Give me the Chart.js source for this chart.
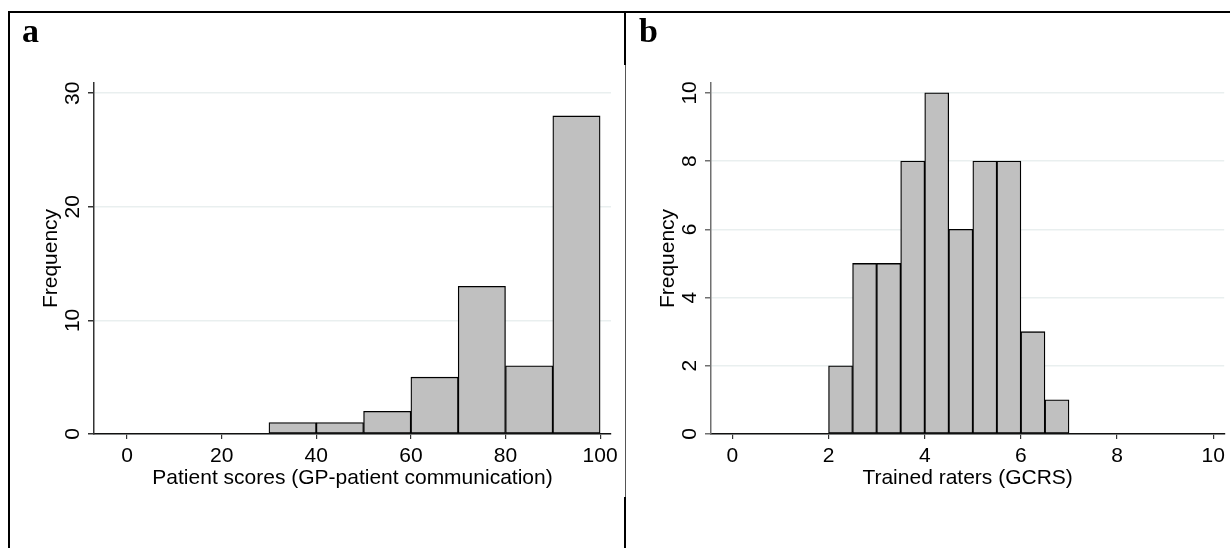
<!DOCTYPE html>
<html>
<head>
<meta charset="utf-8">
<script src="https://cdn.jsdelivr.net/npm/chart.js@4.4.0/dist/chart.umd.min.js"></script>
<style>
  body { margin: 0; background: #fff; }
  #page { position: relative; width: 1230px; height: 548px; overflow: hidden; background: #fff; }
  canvas { position: absolute; top: 0; }
  #histA { left: 0; }
  #histB { left: 625px; }
  .line { position: absolute; background: #000; z-index: 2; }
  .panel { position: absolute; z-index: 2; font: bold 34px "Liberation Serif", "Times New Roman", serif; line-height: 34px; color: #000; }
</style>
</head>
<body>
<div id="page">
  <canvas id="histA" width="625" height="548"></canvas>
  <canvas id="histB" width="605" height="548"></canvas>

  <!-- table borders round the two panels -->
  <div class="line" style="left:8px; top:11px; width:1222px; height:2px;"></div>
  <div class="line" style="left:8px; top:11px; width:2px; height:537px;"></div>
  <div class="line" style="left:624px; top:11px; width:2px; height:54px;"></div>
  <div class="line" style="left:625px; top:65px; width:1px; height:432px; background:#555;"></div>
  <div class="line" style="left:624px; top:497px; width:2px; height:51px;"></div>

  <div class="panel" style="left:22px; top:14px;">a</div>
  <div class="panel" style="left:639px; top:14px;">b</div>
</div>

<script>
// panel a : patient scores
var binsA = [30, 40, 50, 60, 70, 80, 90];
var countsA = [1, 1, 2, 5, 13, 6, 28];
var binWidthA = 10;
var xTicksA = [0, 20, 40, 60, 80, 100];
var yTicksA = [0, 10, 20, 30];

// panel b : trained raters
var binsB = [2, 2.5, 3, 3.5, 4, 4.5, 5, 5.5, 6, 6.5];
var countsB = [2, 5, 5, 8, 10, 6, 8, 8, 3, 1];
var binWidthB = 0.5;
var xTicksB = [0, 2, 4, 6, 8, 10];
var yTicksB = [0, 2, 4, 6, 8, 10];

var fnt = { family: "'Liberation Sans', Arial, sans-serif", size: 21 };

function histogram(id, bins, counts, width, xTicks, yTicks, xRange, yMax, xTitle, pad, yAxisColor) {
  var pts = bins.map(function(b, i) {
    return { x: b + width / 2, y: counts[i] };
  });

  return new Chart(document.getElementById(id), {
    type: "bar",
    data: {
      datasets: [{
        data: pts,
        backgroundColor: "#c0c0c0",
        borderColor: "#000",
        borderWidth: 1.3,
        borderSkipped: false,
        barPercentage: 1,
        categoryPercentage: 1
      }]
    },
    options: {
      responsive: false,
      animation: false,
      devicePixelRatio: 1,
      layout: { padding: pad },
      plugins: { legend: { display: false }, tooltip: { enabled: false } },
      scales: {
        x: {
          type: "linear",
          min: xRange[0],
          max: xRange[1],
          offset: false,
          afterBuildTicks: function(s) { s.ticks = xTicks.map(function(v) { return { value: v }; }); },
          afterFit: function(s) { s.height = 57; },
          ticks: { maxRotation: 0, autoSkip: false, padding: 5, color: "#000", font: fnt },
          grid: { drawOnChartArea: false, offset: false, tickLength: 5, tickColor: "#333", lineWidth: 1.2 },
          border: { color: "#111", width: 1.5, z: 1 },
          title: { display: true, text: xTitle, color: "#000", font: fnt, padding: 0 }
        },
        y: {
          min: 0,
          max: yMax,
          afterBuildTicks: function(s) { s.ticks = yTicks.map(function(v) { return { value: v }; }); },
          afterFit: function(s) { s.width = 55; },
          ticks: { minRotation: 90, maxRotation: 90, crossAlign: "center", autoSkip: false, padding: 3, color: "#000", font: fnt },
          grid: { color: "#e9efef", lineWidth: 1.5, tickLength: 6, tickColor: yAxisColor },
          border: { color: yAxisColor, width: 1.5, z: 1 },
          title: { display: true, text: "Frequency", color: "#000", font: fnt, padding: 0 }
        }
      }
    }
  });
}

histogram("histA", binsA, countsA, binWidthA, xTicksA, yTicksA, [-6.98, 102.3], 30.9,
  "Patient scores (GP-patient communication)", { left: 39, top: 83, right: 14, bottom: 57 }, "#333");

histogram("histB", binsB, countsB, binWidthB, xTicksB, yTicksB, [-0.444, 10.227], 10.29,
  "Trained raters (GCRS)", { left: 31, top: 83, right: 2, bottom: 57 }, "#707070");
</script>
</body>
</html>
